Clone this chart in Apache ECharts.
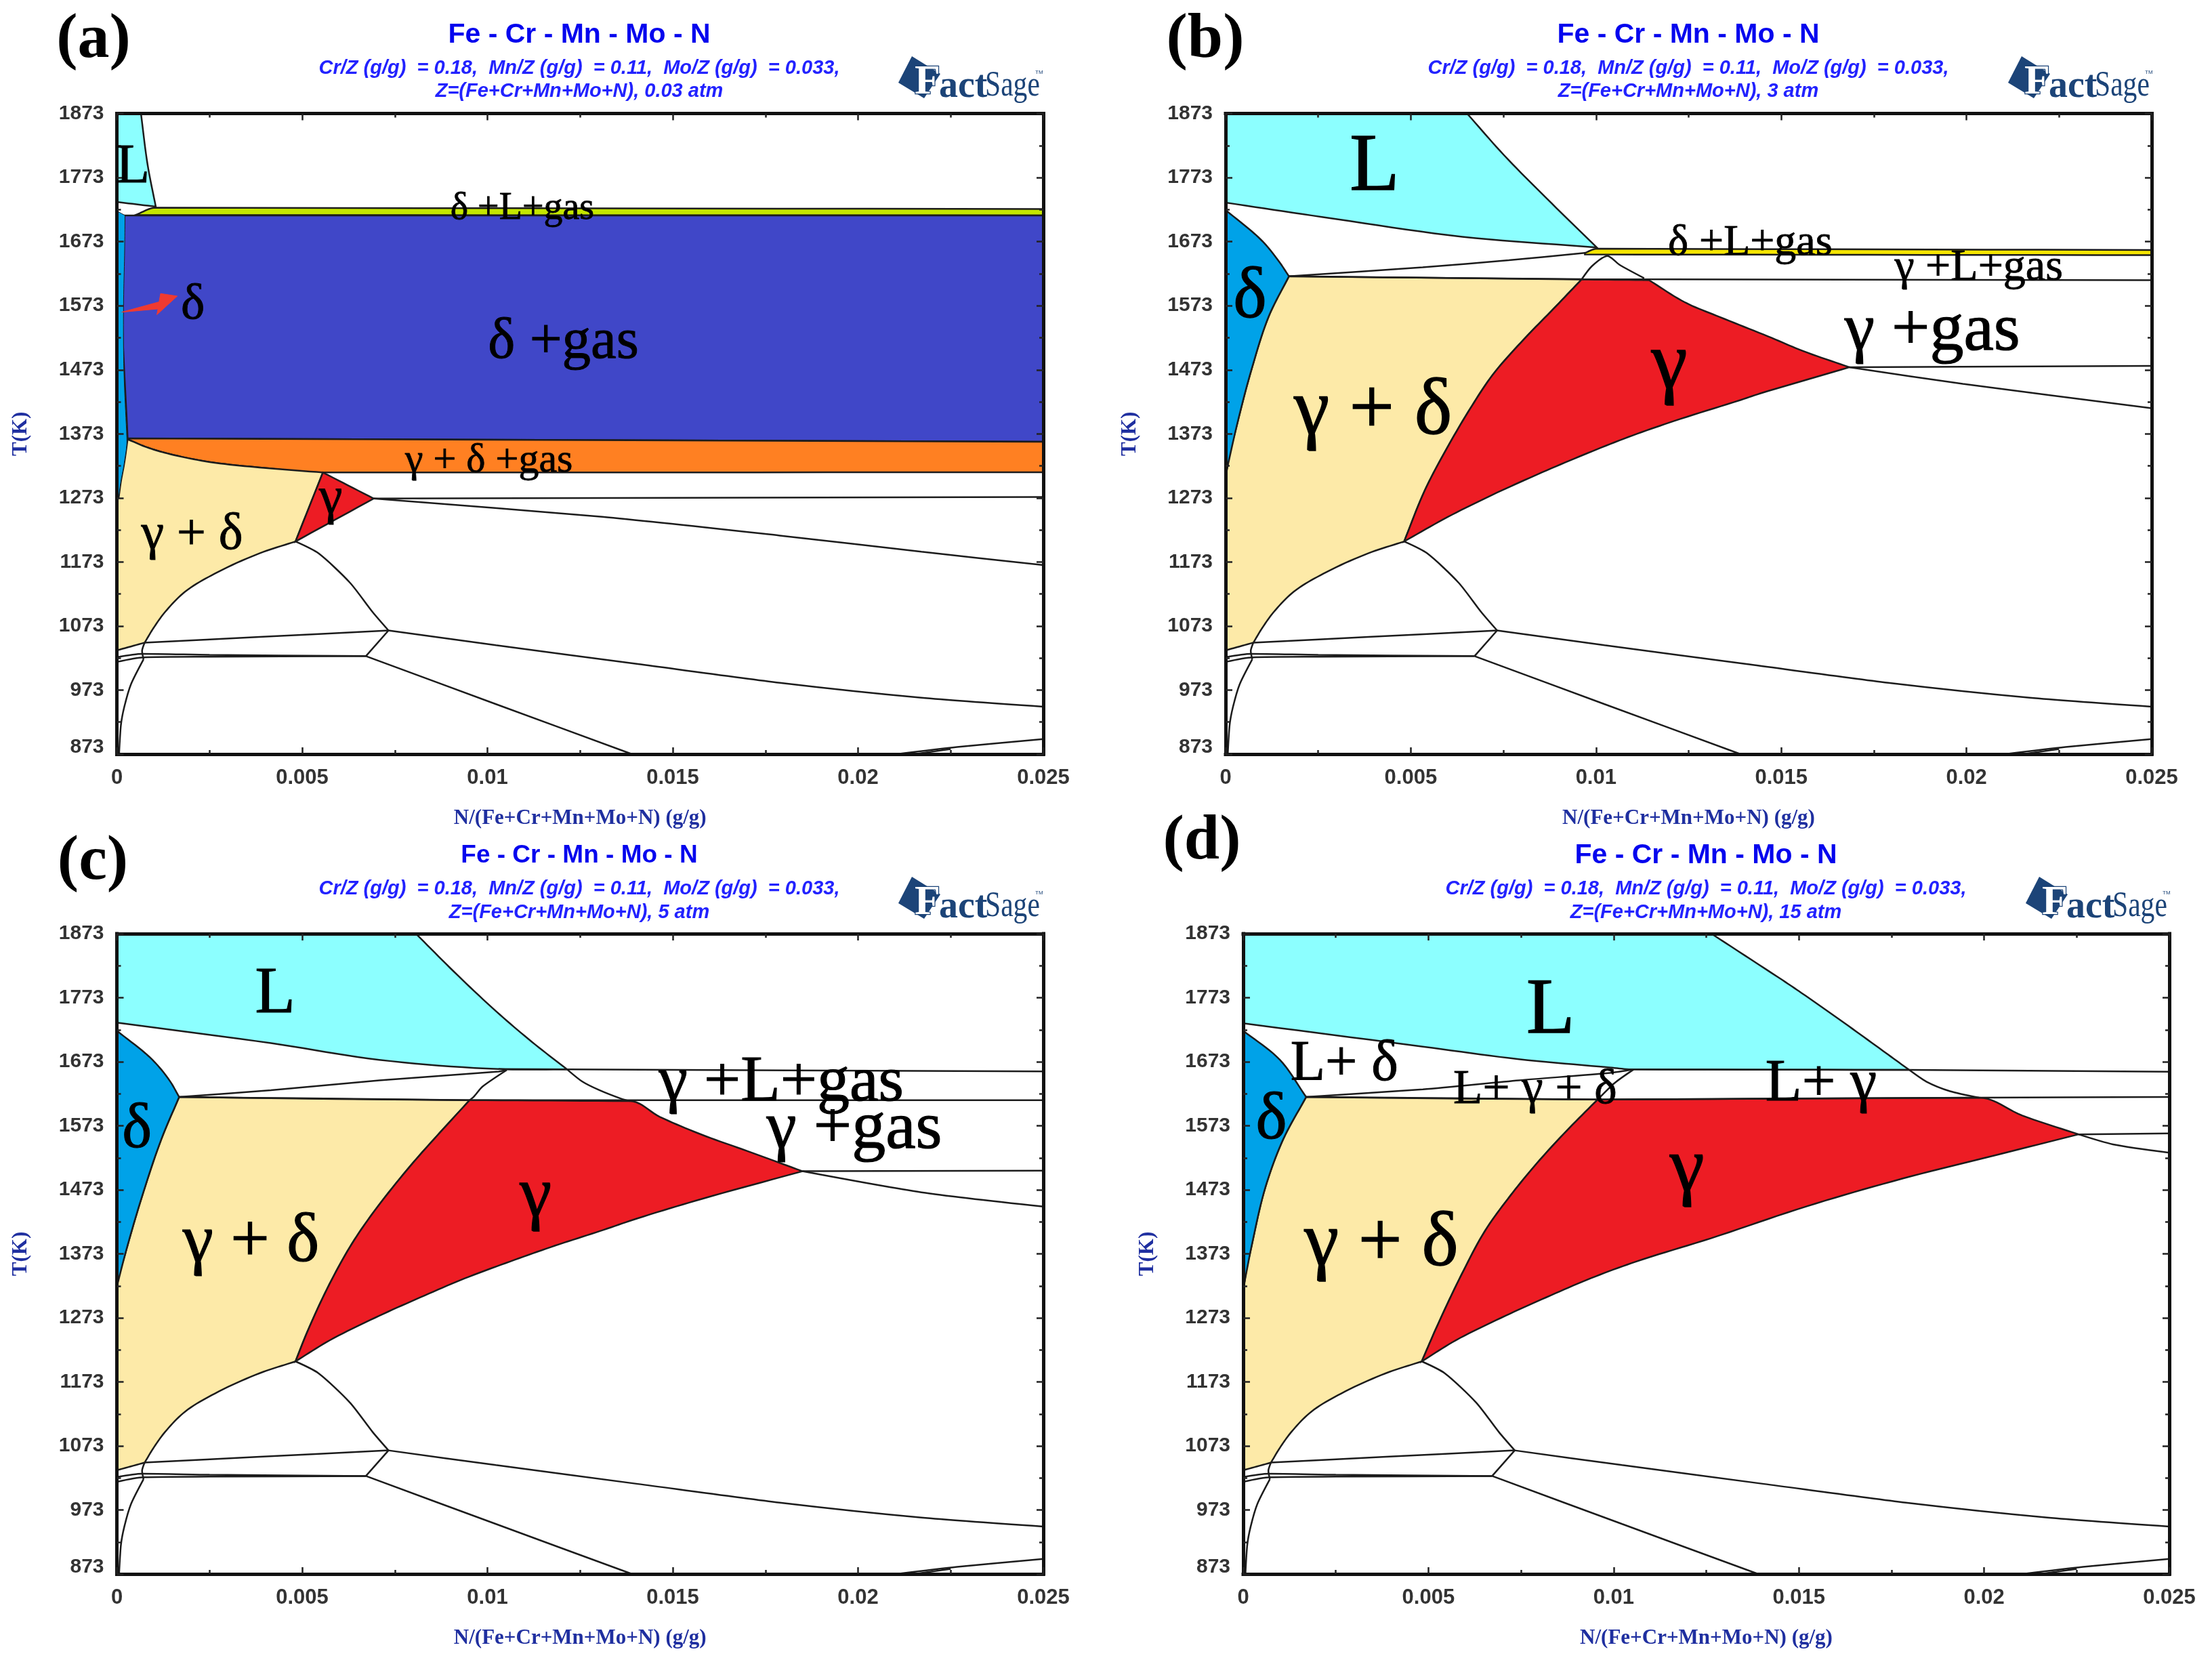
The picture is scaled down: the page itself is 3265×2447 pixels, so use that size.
<!doctype html>
<html lang="en">
<head>
<meta charset="UTF-8">
<title>Fe - Cr - Mn - Mo - N</title>
<script src="https://cdn.jsdelivr.net/npm/echarts@6/dist/echarts.min.js"></script>
<style>
    html, body { margin: 0; padding: 0; background: #fff; }
    #main { width: 3265px; height: 2447px; }
</style>
</head>
<body>
<div id="main"></div>
<script>
    // axis ticks
    const xTicks = [0, 0.005, 0.01, 0.015, 0.02, 0.025];
    const xMinorTicks = [0.0025, 0.0075, 0.0125, 0.0175, 0.0225];
    const yTicks = [873, 973, 1073, 1173, 1273, 1373, 1473, 1573, 1673, 1773, 1873];
    const yMinorTicks = [923, 1023, 1123, 1223, 1323, 1423, 1523, 1623, 1723, 1823];

    const panelLetters = ['(a)', '(b)', '(c)', '(d)'];
    const pressures = ['0.03 atm', '3 atm', '5 atm', '15 atm'];
    const titleText = 'Fe - Cr - Mn - Mo - N';
    const ratioText = 'Cr/Z (g/g)  = 0.18,  Mn/Z (g/g)  = 0.11,  Mo/Z (g/g)  = 0.033,';
    const xName = 'N/(Fe+Cr+Mn+Mo+N) (g/g)';
    const yName = 'T(K)';

    // boundaries below the gamma field, the same at every pressure: [N, T]
    const floorCurve = [[0.00482, 1205], [0.00385, 1186.5], [0.00264, 1154.7], [0.00184, 1126.5], [0.0013, 1094.8], [0.00099, 1070], [0.00075, 1047], [0, 1035]];
    const domeRight = [[0.00482, 1205], [0.00544, 1186.5], [0.00629, 1140.6], [0.0069, 1094.8], [0.00733, 1066]];
    const shelfTop = [[0.00075, 1047], [0.00385, 1056], [0.00733, 1066]];
    const shelfStep = [[0.00733, 1066], [0.00672, 1026]];
    const shelfBottom1 = [[0, 1024.3], [0.00068, 1029.5], [0.0025, 1028], [0.00672, 1026]];
    const shelfBottom2 = [[0, 1017], [0.00072, 1024], [0.0025, 1025], [0.00672, 1026]];
    const notch = [[0.00075, 1047], [0.00068, 1034], [0.00072, 1021]];
    const lowArc = [[0.00072, 1021], [0.00038, 982], [0.0002, 946.7], [0.00011, 918.5], [0.00006, 873]];
    const tailRight = [[0.00733, 1066], [0.01023, 1043], [0.01406, 1013.6], [0.01789, 984.3], [0.02171, 961], [0.025, 947]];
    const tailLow = [[0.00672, 1026], [0.01023, 951], [0.0139, 873]];
    const cornerLine1 = [[0.02104, 873], [0.02267, 884], [0.025, 896.6]];
    const cornerLine2 = [[0.02152, 873], [0.0225, 881]];
    const sharedLines = [domeRight, shelfTop, shelfStep, shelfBottom1, shelfBottom2, notch, lowArc, tailRight, tailLow, cornerLine1, cornerLine2];

    // (a) 0.03 atm
    const aLiquid = [[0, 1873], [0.00065, 1873], [0.00083, 1793], [0.00105, 1727.7], [0, 1735]];
    const aBand = [[0.0005, 1714.5], [0.00105, 1726], [0.025, 1724], [0.025, 1714]];
    const aDeltaGas = [[0.0002, 1714], [0.025, 1714], [0.025, 1360.5], [0.00029, 1366], [0.00014, 1573]];
    const aDelta = [[0, 1721], [0.00022, 1714], [0.00021, 1660], [0.00018, 1573], [0.00019, 1473], [0.00027, 1366], [0.0002, 1327.5], [0.00011, 1299], [0.00005, 1274], [0, 1274]];
    const aCurve = [[0.00029, 1364.5], [0.00081, 1352], [0.00142, 1341.6], [0.00251, 1329], [0.00385, 1320.5], [0.00556, 1312.7]];
    const aOrange = [[0.00029, 1366], [0.025, 1360.5], [0.025, 1313], ...aCurve.slice().reverse()];
    const aGammaDelta = [...aCurve, ...floorCurve, [0, 1274], [0.00005, 1274], [0.00011, 1299], [0.0002, 1327.5]];
    const aGamma = [[0.00556, 1312.7], [0.00693, 1272], [0.00482, 1205]];
    const aShelf = [[0.00693, 1272], [0.025, 1274.4]];
    const aSlope = [[0.00693, 1272], [0.0131, 1243.5], [0.01789, 1214.2], [0.02171, 1189], [0.025, 1168]];
    const aArrow = [[0.00013, 1563], [0.00114, 1579], [0.00118, 1592], [0.00163, 1588], [0.00108, 1559], [0.00111, 1568]];
    const aLabelText = ['L', 'δ +L+gas', 'δ', 'δ +gas', 'γ + δ +gas', 'γ', 'γ + δ'];
    const aLabelPos = [[0.00043, 1788], [0.01094, 1724], [0.00205, 1574], [0.01205, 1515], [0.01004, 1331], [0.00577, 1271], [0.00203, 1215]];
    const aLabelSize = [82, 56, 75, 85, 60, 78, 76];

    // (b) 3 atm
    const bLiquid = [[0, 1873], [0.00652, 1873], [0.00752, 1807.8], [0.00866, 1741], [0.01002, 1664], [0.00639, 1680.7], [0.0026, 1711.6], [0, 1734]];
    const bBand = [[0.0097, 1655.5], [0.01003, 1662], [0.025, 1660], [0.025, 1652], [0.0097, 1653]];
    const bDelta = [[0, 1722.5], [0.00099, 1674], [0.00146, 1640.6], [0.00171, 1619], [0.00117, 1557], [0.0007, 1473.4], [0.00032, 1390], [0.00004, 1318.7], [0, 1320]];
    const bGammaLeft = [[0.00961, 1614], [0.00885, 1568], [0.00806, 1521], [0.00721, 1465], [0.0066, 1412], [0.00599, 1352], [0.00538, 1285], [0.00482, 1205]];
    const bGammaTop = [[0.00961, 1614], [0.01143, 1613], [0.01241, 1578], [0.01334, 1555.4], [0.01465, 1525], [0.01558, 1502.5], [0.01684, 1477]];
    const bGammaLow = [[0.01684, 1477], [0.01465, 1440], [0.01391, 1426], [0.01209, 1392.7], [0.01087, 1368], [0.00965, 1340], [0.00843, 1310], [0.00721, 1278], [0.00599, 1243], [0.00482, 1205]];
    const bGamma = [...bGammaTop, ...bGammaLow, ...bGammaLeft.slice().reverse()];
    const bGammaDelta = [[0.00171, 1619], ...bGammaLeft, ...floorCurve, [0, 1280], [0.00004, 1318.7], [0.00032, 1390], [0.0007, 1473.4], [0.00117, 1557]];
    const bRise = [[0.00171, 1619], [0.00532, 1633], [0.00765, 1644], [0.0097, 1655.5]];
    const bFlat = [[0.00171, 1619], [0.00961, 1614.6], [0.025, 1613]];
    const bArc = [[0.00961, 1614], [0.00989, 1634.8], [0.01031, 1650.6], [0.01064, 1636.7], [0.0113, 1616]];
    const bRightFlat = [[0.01684, 1477], [0.025, 1479]];
    const bRightSlope = [[0.01684, 1477], [0.0199, 1451], [0.025, 1413]];
    const bLabelText = ['L', 'δ', 'δ +L+gas', 'γ +L+gas', 'γ +gas', 'γ', 'γ + δ'];
    const bLabelPos = [[0.00402, 1787], [0.00066, 1584], [0.01416, 1670], [0.02033, 1632], [0.01908, 1532], [0.01198, 1479], [0.00398, 1406.5]];
    const bLabelSize = [120, 105, 64, 66, 100, 120, 118];

    // (c) 5 atm
    const cLiquid = [[0, 1873], [0.00807, 1873], [0.00909, 1814], [0.01023, 1752], [0.0112, 1704], [0.01215, 1661], [0.0103, 1661.5], [0.00708, 1676], [0.00416, 1702], [0, 1734]];
    const cDelta = [[0, 1721.5], [0.00096, 1676], [0.00143, 1643], [0.00168, 1618], [0.0012, 1552], [0.00067, 1461], [0.00025, 1378], [0, 1322]];
    const cGammaLeft = [[0.00952, 1613], [0.00872, 1562.5], [0.00793, 1511], [0.00696, 1440.6], [0.00635, 1389.4], [0.00574, 1326], [0.00513, 1250], [0.00482, 1205]];
    const cGammaTop = [[0.00952, 1613], [0.01384, 1611.6], [0.01465, 1587], [0.0158, 1558.7], [0.01699, 1534], [0.0185, 1502]];
    const cGammaLow = [[0.0185, 1502], [0.0158, 1459], [0.01403, 1428], [0.01305, 1408.8], [0.01183, 1385.9], [0.01061, 1361], [0.00939, 1334.7], [0.00818, 1304.8], [0.00696, 1273], [0.00574, 1237.8], [0.00482, 1205]];
    const cGamma = [...cGammaTop, ...cGammaLow, ...cGammaLeft.slice().reverse()];
    const cGammaDelta = [[0.00168, 1618], ...cGammaLeft, ...floorCurve, [0, 1280], [0, 1322], [0.00025, 1378], [0.00067, 1461], [0.0012, 1552]];
    const cTail = [[0.01215, 1661], [0.01256, 1642], [0.01302, 1628.6], [0.0136, 1615.4], [0.01384, 1611.6]];
    const cTop = [[0.0103, 1661.5], [0.0122, 1661], [0.025, 1657.8]];
    const cRise = [[0.00168, 1618], [0.00416, 1628.6], [0.00708, 1643.8], [0.0103, 1657.7], [0.01052, 1660]];
    const cFlat = [[0.00168, 1618], [0.00952, 1613], [0.025, 1613]];
    const cArc = [[0.01052, 1660], [0.00987, 1634.3], [0.00964, 1619], [0.00952, 1613]];
    const cRightFlat = [[0.0185, 1502], [0.025, 1503]];
    const cRightSlope = [[0.0185, 1502], [0.02171, 1469], [0.025, 1446.7]];
    const cLabelText = ['L', 'δ', 'γ +L+gas', 'γ +gas', 'γ', 'γ + δ'];
    const cLabelPos = [[0.00427, 1777.6], [0.00054, 1566], [0.01793, 1639], [0.0199, 1566], [0.0113, 1462], [0.00362, 1390.5]];
    const cLabelSize = [97, 93, 96, 100, 106, 102];

    // (d) 15 atm
    const dLiquid = [[0, 1873], [0.01264, 1873], [0.01444, 1805], [0.01507, 1780.5], [0.01624, 1733], [0.01727, 1690], [0.01798, 1660.2], [0.01054, 1661], [0.0099, 1664], [0.00744, 1677], [0.00485, 1696.6], [0, 1733]];
    const dDelta = [[0, 1721.5], [0.00099, 1676], [0.0017, 1618], [0.00108, 1552], [0.0006, 1477], [0.00023, 1386], [0.00004, 1330], [0, 1330]];
    const dGammaLeft = [[0.00957, 1614], [0.00873, 1565], [0.00793, 1514.5], [0.00721, 1463.6], [0.00653, 1409], [0.00589, 1340], [0.00525, 1262], [0.00482, 1205]];
    const dGammaTop = [[0.00957, 1614], [0.01986, 1617], [0.02103, 1589], [0.02255, 1559.6]];
    const dGammaLow = [[0.02255, 1559.6], [0.02038, 1528], [0.01779, 1490.4], [0.0152, 1447], [0.01261, 1397], [0.01061, 1361], [0.00939, 1335], [0.00818, 1305], [0.00696, 1273], [0.00574, 1238], [0.00482, 1205]];
    const dGamma = [...dGammaTop, ...dGammaLow, ...dGammaLeft.slice().reverse()];
    const dGammaDelta = [[0.0017, 1618], ...dGammaLeft, ...floorCurve, [0, 1290], [0.00004, 1330], [0.00023, 1386], [0.0006, 1477], [0.00108, 1552]];
    const dTail = [[0.01798, 1660.2], [0.01844, 1642], [0.01908, 1627], [0.01986, 1617]];
    const dTop = [[0.01054, 1661], [0.01798, 1660.2], [0.025, 1657.4]];
    const dRise = [[0.0017, 1618], [0.00485, 1630], [0.00744, 1644], [0.0099, 1655.5], [0.01054, 1661]];
    const dFlat = [[0.0017, 1618], [0.00957, 1614], [0.01986, 1617], [0.025, 1618]];
    const dArc = [[0.01054, 1661], [0.01003, 1640], [0.00957, 1614]];
    const dRightFlat = [[0.02255, 1559.6], [0.025, 1561]];
    const dRightSlope = [[0.02255, 1559.6], [0.02348, 1544], [0.025, 1531]];
    const dLabelText = ['L', 'L+ δ', 'L+ γ + δ', 'L+ γ', 'δ', 'γ', 'γ + δ'];
    const dLabelPos = [[0.0083, 1751], [0.00273, 1668], [0.00788, 1628.6], [0.0156, 1637], [0.00076, 1581], [0.01198, 1504], [0.00373, 1388]];
    const dLabelSize = [117, 84, 71, 88, 98, 115, 115];

    const CYAN = '#8cffff', SKY = '#00a2e8', CREAM = '#fdeaa8', RED = '#ed1c24';

    // panel geometry in page pixels
    const panels = [
        {
            box: [172.5, 167.6, 1367.5, 945.4], titleX: 855, titleY: 52, sub1Y: 101, sub2Y: 135,
            titleSize: 41, letterX: 138, letterY: 60, logo: [1326, 83],
            regions: [[aLiquid, CYAN], [aBand, '#c4e600'], [aDeltaGas, '#4047c8'], [aOrange, '#ff8022'], [aGammaDelta, CREAM], [aDelta, SKY, 1], [aGamma, RED]],
            lines: [aShelf, aSlope],
            labels: [aLabelText, aLabelPos, aLabelSize], arrow: aArrow
        },
        {
            box: [1809, 167.6, 1367, 945.4], titleX: 2492, titleY: 52, sub1Y: 101, sub2Y: 135,
            titleSize: 41, letterX: 1779, letterY: 60, logo: [2964, 83],
            regions: [[bLiquid, CYAN], [bBand, '#f5e500'], [bGammaDelta, CREAM], [bDelta, SKY], [bGamma, RED]],
            lines: [bRise, bFlat, bArc, bRightFlat, bRightSlope],
            labels: [bLabelText, bLabelPos, bLabelSize]
        },
        {
            box: [172.5, 1378, 1367.5, 945], titleX: 855, titleY: 1263, sub1Y: 1312, sub2Y: 1347,
            titleSize: 37, letterX: 137, letterY: 1273, logo: [1326, 1294],
            regions: [[cLiquid, CYAN], [cGammaDelta, CREAM], [cDelta, SKY], [cGamma, RED]],
            lines: [cTail, cTop, cRise, cFlat, cArc, cRightFlat, cRightSlope],
            labels: [cLabelText, cLabelPos, cLabelSize]
        },
        {
            box: [1835, 1378, 1367, 945], titleX: 2518, titleY: 1263, sub1Y: 1312, sub2Y: 1347,
            titleSize: 41, letterX: 1774, letterY: 1243, logo: [2990, 1294],
            regions: [[dLiquid, CYAN], [dGammaDelta, CREAM], [dDelta, SKY], [dGamma, RED]],
            lines: [dTail, dTop, dRise, dFlat, dArc, dRightFlat, dRightSlope],
            labels: [dLabelText, dLabelPos, dLabelSize]
        }
    ];

    const FRAME = '#111';
    const INK = '#1c1c1c';
    const AXIS_BLUE = '#1f2fa0';
    const LOGO_BLUE = '#1c4478';
    const CORNER_ANGLE = 28 * Math.PI / 180;
    const LONG_EDGE = 2.5;

    // rounds the outline between its sharp corners, in screen space only
    function roundedOutline(pts) {
        const n = pts.length;
        const unit = (a, b) => {
            const dx = b[0] - a[0], dy = b[1] - a[1], len = Math.hypot(dx, dy) || 1;
            return [dx / len, dy / len, len];
        };
        const seg = pts.map((p, i) => unit(p, pts[(i + 1) % n]));
        const isCorner = pts.map((p, i) => {
            const a = seg[(i - 1 + n) % n], b = seg[i];
            return Math.acos(Math.min(1, Math.max(-1, a[0] * b[0] + a[1] * b[1]))) > CORNER_ANGLE;
        });
        const tangent = i => {
            const a = seg[(i - 1 + n) % n], b = seg[i];
            // a long straight edge keeps its own direction
            if (a[2] > b[2] * LONG_EDGE) return a;
            if (b[2] > a[2] * LONG_EDGE) return b;
            const tx = a[0] + b[0], ty = a[1] + b[1], len = Math.hypot(tx, ty) || 1;
            return [tx / len, ty / len];
        };
        const out = [];
        pts.forEach((p, i) => {
            const j = (i + 1) % n, q = pts[j], len = seg[i][2];
            const t0 = isCorner[i] ? seg[i] : tangent(i);
            const t1 = isCorner[j] ? seg[i] : tangent(j);
            for (let k = 0; k < 10; k++) {
                const t = k / 10, t2 = t * t, t3 = t2 * t;
                const h00 = 2 * t3 - 3 * t2 + 1, h10 = t3 - 2 * t2 + t, h01 = -2 * t3 + 3 * t2, h11 = t3 - t2;
                out.push([
                    h00 * p[0] + h10 * len * t0[0] + h01 * q[0] + h11 * len * t1[0],
                    h00 * p[1] + h10 * len * t0[1] + h01 * q[1] + h11 * len * t1[1]
                ]);
            }
        });
        return out;
    }

    function makeAxis(gridIndex, isX, position, values, tickLength, primary) {
        const base = isX
            ? { min: 0, max: 0.025, interval: 0.005 }
            : { min: 873, max: 1873 };
        return {
            ...base,
            type: 'value',
            gridIndex: gridIndex,
            position: position,
            z: 10,
            splitLine: { show: false },
            axisLine: { show: primary, onZero: false, lineStyle: { color: FRAME, width: 5, cap: 'square' } },
            axisTick: {
                show: true, inside: true, length: tickLength, customValues: values,
                lineStyle: { color: '#222', width: 2.5 }
            },
            axisLabel: { show: false }
        };
    }

    const grid = [], xAxis = [], yAxis = [], series = [], title = [], graphic = [];

    panels.forEach((panel, p) => {
        const [left, top, width, height] = panel.box;
        const axisIndex = p * 4;

        // two overlaid grids: one carries the long ticks and the data, one the short ticks
        grid.push({ left, top, width, height }, { left, top, width, height });

        const xMain = makeAxis(p * 2, true, 'bottom', xTicks, 10, true);
        xMain.axisLabel = {
            show: true, customValues: xTicks, margin: 20,
            fontFamily: 'Liberation Sans', fontWeight: 'bold', fontSize: 31, color: '#333',
            formatter: v => String(v)
        };
        xMain.name = xName;
        xMain.nameLocation = 'middle';
        xMain.nameGap = 79;
        xMain.nameTextStyle = { fontFamily: 'Liberation Serif', fontWeight: 'bold', fontSize: 31, color: AXIS_BLUE };

        const yMain = makeAxis(p * 2, false, 'left', yTicks, 10, true);
        const tickFont = { fontFamily: 'Liberation Sans', fontWeight: 'bold', fontSize: 30, color: '#333' };
        yMain.axisLabel = {
            show: true, customValues: yTicks, margin: 19,
            ...tickFont,
            formatter: v => (v === yTicks[0] ? '{low|' + v + '}' : String(v)),
            rich: { low: { ...tickFont, padding: [0, 0, 20, 0] } }
        };
        yMain.name = yName;
        yMain.nameLocation = 'middle';
        yMain.nameGap = 126;
        yMain.nameTextStyle = { fontFamily: 'Liberation Serif', fontWeight: 'bold', fontSize: 31, color: AXIS_BLUE };

        xAxis.push(
            xMain,
            makeAxis(p * 2, true, 'top', xTicks, 10, true),
            makeAxis(p * 2 + 1, true, 'bottom', xMinorTicks, 6, false),
            makeAxis(p * 2 + 1, true, 'top', xMinorTicks, 6, false)
        );
        yAxis.push(
            yMain,
            makeAxis(p * 2, false, 'right', yTicks, 10, true),
            makeAxis(p * 2 + 1, false, 'left', yMinorTicks, 6, false),
            makeAxis(p * 2 + 1, false, 'right', yMinorTicks, 6, false)
        );

        // filled phase fields
        const polygonSeries = (points, fill, stroke, strokeWidth, rounded) => ({
            type: 'custom',
            xAxisIndex: axisIndex,
            yAxisIndex: axisIndex,
            data: points,
            clip: true,
            silent: true,
            z: 2,
            renderItem: (params, api) => {
                if (params.dataIndex !== 0) return;
                const screen = points.map(pt => api.coord(pt));
                return {
                    type: 'polygon',
                    shape: { points: rounded ? roundedOutline(screen) : screen },
                    style: { fill: fill, stroke: stroke, lineWidth: strokeWidth }
                };
            }
        });
        panel.regions.forEach(([points, fill, strokeWidth]) => {
            series.push(polygonSeries(points, fill, INK, strokeWidth || 2.5, true));
        });

        // phase boundaries
        sharedLines.concat(panel.lines).forEach(points => {
            series.push({
                type: 'line',
                xAxisIndex: axisIndex,
                yAxisIndex: axisIndex,
                data: points,
                showSymbol: false,
                symbol: 'none',
                smooth: 0.25,
                silent: true,
                z: 3,
                lineStyle: { color: INK, width: 2.5 }
            });
        });

        if (panel.arrow) series.push(Object.assign(polygonSeries(panel.arrow, '#f03a30', '#f03a30', 1, false), { z: 4 }));

        // phase names
        const [texts, spots, sizes] = panel.labels;
        series.push({
            type: 'scatter',
            xAxisIndex: axisIndex,
            yAxisIndex: axisIndex,
            symbolSize: 1,
            silent: true,
            z: 20,
            itemStyle: { color: 'transparent', opacity: 1 },
            data: texts.map((text, i) => ({
                name: text,
                value: spots[i],
                label: { fontSize: sizes[i], textBorderWidth: Math.max(0.8, sizes[i] * 0.012) }
            })),
            label: {
                show: true,
                position: 'inside',
                formatter: '{b}',
                fontFamily: 'Liberation Serif',
                color: '#000',
                textBorderColor: '#000'
            }
        });

        // headings
        const centred = (text, x, y, style) => ({
            text: text, left: x, top: y, padding: 0, textAlign: 'center', textVerticalAlign: 'middle', textStyle: style
        });
        title.push(
            centred(panelLetters[p], panel.letterX, panel.letterY,
                { fontFamily: 'Liberation Serif', fontWeight: 'bold', fontSize: 94, color: '#000' }),
            centred(titleText, panel.titleX, panel.titleY,
                { fontFamily: 'Liberation Sans', fontWeight: 'bold', fontSize: panel.titleSize, color: '#0505ee' }),
            centred(ratioText, panel.titleX, panel.sub1Y,
                { fontFamily: 'Liberation Sans', fontWeight: 'bold', fontStyle: 'italic', fontSize: 29, color: '#2222ff' }),
            centred('Z=(Fe+Cr+Mn+Mo+N), ' + pressures[p], panel.titleX, panel.sub2Y,
                { fontFamily: 'Liberation Sans', fontWeight: 'bold', fontStyle: 'italic', fontSize: 29, color: '#2222ff' })
        );

        // FactSage mark
        const [logoX, logoY] = panel.logo;
        graphic.push({
            type: 'group',
            x: logoX,
            y: logoY,
            children: [
                { type: 'polygon', shape: { points: [[0, 39], [20, 0], [62, 26], [38, 62]] }, style: { fill: LOGO_BLUE } },
                {
                    type: 'text', x: 24, y: 8,
                    style: { text: 'F', fill: '#fff', stroke: LOGO_BLUE, lineWidth: 2.5, font: 'bold 62px "Liberation Serif"' }
                },
                {
                    type: 'text', x: 60, y: 18,
                    style: { text: 'act', fill: LOGO_BLUE, font: 'bold 56px "Liberation Serif"' }
                },
                {
                    type: 'text', x: 128, y: 18, scaleX: 0.8,
                    style: { text: 'Sage', fill: LOGO_BLUE, font: '52px "Liberation Serif"' }
                },
                {
                    type: 'text', x: 202, y: 20,
                    style: { text: 'TM', fill: LOGO_BLUE, font: '8px "Liberation Sans"' }
                }
            ]
        });
    });

    const chart = echarts.init(document.getElementById('main'));
    chart.setOption({
        animation: false,
        backgroundColor: '#fff',
        title: title,
        grid: grid,
        xAxis: xAxis,
        yAxis: yAxis,
        series: series,
        graphic: graphic
    });
</script>
</body>
</html>
